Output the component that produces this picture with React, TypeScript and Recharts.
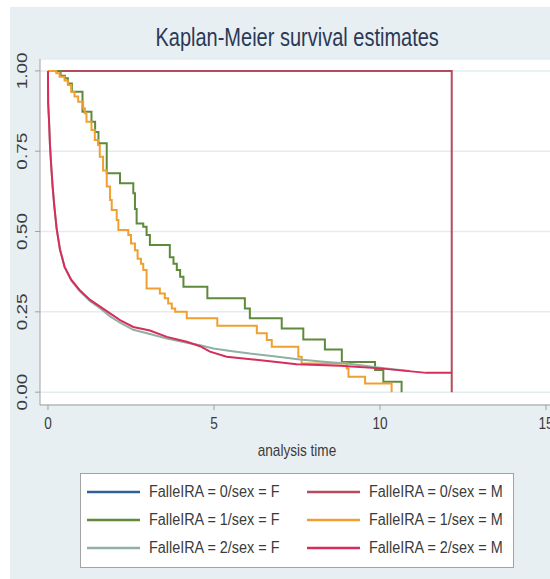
import React from 'react';
import { LineChart, Line, XAxis, YAxis, CartesianGrid, Legend } from 'recharts';

// survival estimates (time, S(t))
const f0Time = [0, 12.16];
const f0Surv = [1, 1];

const m0Time = [0, 12.16];
const m0Surv = [1, 0];

const f1Time = [0, 0.38, 0.51, 0.6, 0.72, 1.04, 1.31, 1.42, 1.52, 1.77, 2.17, 2.57, 2.62, 2.67, 2.87, 2.97, 3.07, 3.67, 3.78, 3.88, 3.98, 4.08, 4.8, 5.93, 6.08, 7.04, 7.69, 8.34, 8.85, 9.85, 10.1, 10.65];
const f1Surv = [1, 0.985, 0.977, 0.961, 0.935, 0.873, 0.842, 0.81, 0.775, 0.681, 0.65, 0.619, 0.57, 0.525, 0.515, 0.489, 0.458, 0.42, 0.4, 0.38, 0.359, 0.328, 0.292, 0.26, 0.23, 0.198, 0.164, 0.133, 0.094, 0.069, 0.032, 0];

const m1Time = [0, 0.25, 0.35, 0.5, 0.6, 0.7, 0.8, 0.91, 1.06, 1.11, 1.16, 1.31, 1.41, 1.51, 1.56, 1.66, 1.77, 1.87, 1.92, 2.07, 2.12, 2.42, 2.5, 2.62, 2.7, 2.8, 2.87, 2.97, 3.37, 3.52, 3.62, 3.73, 3.83, 4.18, 5.1, 6.29, 6.59, 6.74, 7.54, 7.64, 9.0, 9.05, 9.55, 10.35];
const m1Surv = [1, 0.993, 0.982, 0.97, 0.956, 0.935, 0.92, 0.904, 0.884, 0.868, 0.842, 0.816, 0.785, 0.769, 0.733, 0.69, 0.64, 0.598, 0.567, 0.536, 0.505, 0.489, 0.463, 0.442, 0.415, 0.4, 0.38, 0.323, 0.307, 0.292, 0.276, 0.26, 0.25, 0.23, 0.207, 0.183, 0.162, 0.141, 0.11, 0.089, 0.074, 0.048, 0.027, 0];

const f2Time = [0, 0.005, 0.03, 0.06, 0.1, 0.14, 0.19, 0.26, 0.36, 0.5, 0.7, 0.95, 1.27, 1.57, 1.87, 2.17, 2.57, 3.07, 3.58, 4.18, 4.58, 4.98, 5.5, 6.08, 6.8, 7.59, 8.3, 9.0, 10.0, 10.6, 10.9];
const f2Surv = [1, 0.9, 0.85, 0.77, 0.7, 0.64, 0.58, 0.51, 0.445, 0.39, 0.348, 0.315, 0.283, 0.261, 0.236, 0.216, 0.194, 0.181, 0.167, 0.154, 0.146, 0.136, 0.128, 0.12, 0.112, 0.102, 0.095, 0.089, 0.076, 0.069, 0.066];

const m2Time = [0, 0.005, 0.03, 0.06, 0.1, 0.14, 0.19, 0.26, 0.36, 0.5, 0.7, 0.95, 1.27, 1.57, 1.87, 2.17, 2.57, 3.07, 3.58, 4.18, 4.58, 4.88, 5.38, 6.18, 7.49, 8.8, 10.0, 11.4, 12.16];
const m2Surv = [1, 0.9, 0.85, 0.77, 0.7, 0.64, 0.58, 0.51, 0.445, 0.39, 0.35, 0.318, 0.287, 0.266, 0.245, 0.224, 0.203, 0.192, 0.172, 0.157, 0.143, 0.126, 0.11, 0.102, 0.087, 0.082, 0.074, 0.06, 0.06];

const xTicks = [0, 5, 10, 15];
const yTicks = [0, 0.25, 0.5, 0.75, 1];
const yTickLabels = ['0.00', '0.25', '0.50', '0.75', '1.00'];

const zip = (t: number[], s: number[]) => t.map((v, i) => ({ t: v, s: s[i] }));

const series = [
  { name: 'FalleIRA = 0/sex = F', color: '#2f6194', data: zip(f0Time, f0Surv), step: true },
  { name: 'FalleIRA = 0/sex = M', color: '#b44c5b', data: zip(m0Time, m0Surv), step: true },
  { name: 'FalleIRA = 1/sex = F', color: '#5f8a3c', data: zip(f1Time, f1Surv), step: true },
  { name: 'FalleIRA = 1/sex = M', color: '#f0a030', data: zip(m1Time, m1Surv), step: true },
  { name: 'FalleIRA = 2/sex = F', color: '#8fb0a3', data: zip(f2Time, f2Surv), step: false },
  { name: 'FalleIRA = 2/sex = M', color: '#d62d5c', data: zip(m2Time, m2Surv), step: false },
];

const FONT = '"Liberation Sans", Arial, sans-serif';
const TEXT = '#3b3b3b';

const XTick = ({ x, payload }: any) => (
  <text transform={`translate(${x},429) scale(0.8,1)`} textAnchor="middle" fontSize={17} fontFamily={FONT} fill={TEXT}>
    {payload.value}
  </text>
);

const YTick = ({ y, payload }: any) => (
  <text transform={`translate(27,${y}) rotate(-90) scale(1,0.8)`} textAnchor="middle" fontSize={19} fontFamily={FONT} fill={TEXT}>
    {yTickLabels[yTicks.indexOf(payload.value)]}
  </text>
);

const XTitle = () => (
  <text transform="translate(297,456) scale(0.85,1)" textAnchor="middle" fontSize={16} fontFamily={FONT} fill={TEXT}>
    analysis time
  </text>
);

const LegendBox = ({ payload }: any) => (
  <div
    style={{
      width: 434,
      height: 95,
      boxSizing: 'border-box',
      border: '1px solid #a3a3a3',
      background: '#fff',
      display: 'grid',
      gridTemplateColumns: '220px 212px',
      gridAutoRows: '28px',
      paddingTop: 4,
      fontFamily: FONT,
      color: TEXT,
    }}
  >
    {(payload || []).map((p: any) => (
      <div key={p.value} style={{ display: 'flex', alignItems: 'center', paddingLeft: 6 }}>
        <svg width={53} height={6} style={{ flex: 'none' }}>
          <line x1={0} x2={53} y1={3} y2={3} stroke={p.color} strokeWidth={2.5} />
        </svg>
        <span style={{ marginLeft: 9, fontSize: 16, display: 'inline-block', transform: 'scaleX(0.9)', transformOrigin: 'left center', whiteSpace: 'nowrap' }}>
          {p.value}
        </span>
      </div>
    ))}
  </div>
);

export default function App() {
  return (
    <div style={{ position: 'absolute', left: 0, top: 0, width: 550, height: 579, overflow: 'hidden', background: '#fff' }}>
      <div style={{ position: 'absolute', left: 10, top: 7, right: 0, bottom: 0, background: '#e8eff2' }} />
      <div
        style={{
          position: 'absolute',
          left: 0,
          top: 25,
          width: 594,
          textAlign: 'center',
          fontFamily: FONT,
          fontSize: 25,
          lineHeight: '25px',
          color: '#2b3956',
        }}
      >
        <span style={{ display: 'inline-block', transform: 'scaleX(0.8)' }}>Kaplan-Meier survival estimates</span>
      </div>
      <div style={{ position: 'absolute', left: 0, top: 0 }}>
        <LineChart width={600} height={579} margin={{ top: 59, right: 46, bottom: 114, left: 0 }}>
          <CartesianGrid horizontal vertical={false} fill="#ffffff" stroke="#e3ecef" strokeWidth={1.5} />
          <XAxis
            type="number"
            dataKey="t"
            domain={[-0.24, 15.24]}
            ticks={xTicks}
            allowDataOverflow
            height={60}
            stroke="#a0a0a0"
            tickSize={5}
            tick={<XTick />}
            label={<XTitle />}
          />
          <YAxis
            type="number"
            dataKey="s"
            domain={[-0.04, 1.037]}
            ticks={yTicks}
            allowDataOverflow
            width={40}
            stroke="#a0a0a0"
            tickSize={5}
            tick={<YTick />}
          />
          <Legend
            layout="vertical"
            align="center"
            verticalAlign="middle"
            wrapperStyle={{ left: 80, top: 473, width: 434, height: 95 }}
            content={<LegendBox />}
          />
          {series.map((s) => (
            <Line
              key={s.name}
              name={s.name}
              data={s.data}
              dataKey="s"
              type={s.step ? 'stepAfter' : 'linear'}
              stroke={s.color}
              strokeWidth={2}
              dot={false}
              activeDot={false}
              isAnimationActive={false}
            />
          ))}
        </LineChart>
      </div>
    </div>
  );
}
